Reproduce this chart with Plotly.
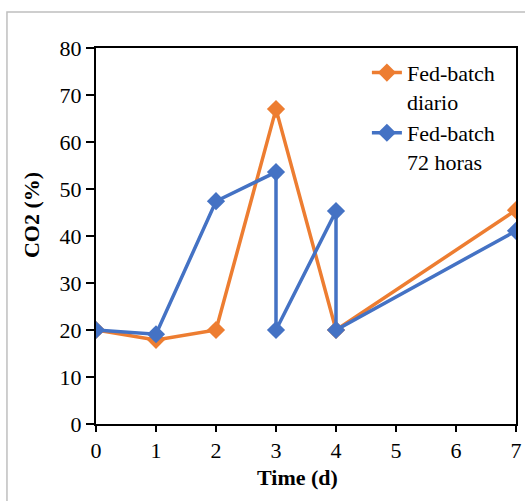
import plotly.graph_objects as go

x_diario = [0, 1, 2, 3, 4, 7]
y_diario = [20, 17.9, 20, 67, 20, 45.5]
x_72h = [0, 1, 2, 3, 3, 4, 4, 7]
y_72h = [20, 19.1, 47.4, 53.6, 20, 45.3, 20, 41.1]
name_diario = "Fed-batch<br>diario"
name_72h = "Fed-batch<br>72 horas"
x_ticks = [0, 1, 2, 3, 4, 5, 6, 7]
y_ticks = [0, 10, 20, 30, 40, 50, 60, 70, 80]

ORANGE = "#ED7D31"
BLUE = "#4472C4"
FONT = "Liberation Serif"

fig = go.Figure()
fig.add_trace(go.Scatter(x=x_diario, y=y_diario, name=name_diario, mode="lines+markers",
                         line=dict(color=ORANGE, width=3.5),
                         marker=dict(symbol="diamond", size=14, color=ORANGE)))
fig.add_trace(go.Scatter(x=x_72h, y=y_72h, name=name_72h, mode="lines+markers",
                         line=dict(color=BLUE, width=3.5),
                         marker=dict(symbol="diamond", size=14, color=BLUE)))

fig.update_layout(
    width=525, height=501,
    margin=dict(l=96, r=9, t=48, b=77, autoexpand=False),
    paper_bgcolor="white", plot_bgcolor="white",
    font=dict(family=FONT, size=22, color="black"),
    showlegend=True,
    legend=dict(x=0.645, y=0.99, xanchor="left", yanchor="top",
                bgcolor="rgba(0,0,0,0)", font=dict(family=FONT, size=22, color="black"),
                valign="top", tracegroupgap=6, itemwidth=30),
    xaxis=dict(range=[0, 7], tickvals=x_ticks, showgrid=False, zeroline=False,
               showline=True, linecolor="black", linewidth=2, mirror=True,
               ticks="outside", ticklen=6, tickwidth=1.5, tickcolor="black",
               automargin=False,
               tickfont=dict(family=FONT, size=22, color="black")),
    yaxis=dict(range=[0, 80], tickvals=y_ticks, showgrid=False, zeroline=False,
               showline=True, linecolor="black", linewidth=2, mirror=True,
               ticks="outside", ticklen=8, tickwidth=1.5, tickcolor="black",
               automargin=False,
               tickfont=dict(family=FONT, size=22, color="black")),
    shapes=[dict(type="rect", xref="paper", yref="paper",
                 x0=-0.212, x1=1.06, y0=-0.25, y1=1.096,
                 line=dict(color="#BFBFBF", width=1.5))],
    annotations=[
        dict(text="<b>Time (d)</b>", xref="paper", yref="paper", x=0.48, y=-0.141,
             xanchor="center", yanchor="middle", showarrow=False,
             font=dict(family=FONT, size=22, color="black")),
        dict(text="<b>CO2 (%)</b>", xref="paper", yref="paper", x=-0.152, y=0.556,
             xanchor="center", yanchor="middle", showarrow=False, textangle=-90,
             font=dict(family=FONT, size=22, color="black")),
    ],
)

fig.write_html("out.html")
